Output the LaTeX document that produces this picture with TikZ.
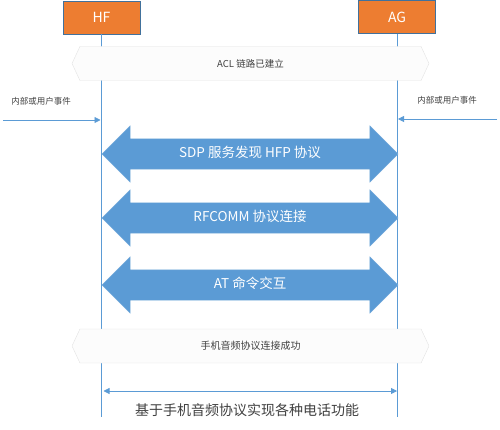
\documentclass[tikz,border=0pt]{standalone}
\usepackage{fontspec}
\setmainfont{Noto Sans CJK SC}
\usetikzlibrary{shapes.symbols,shapes.arrows,arrows.meta}
\definecolor{hforange}{HTML}{ED7D31}
\definecolor{boxedge}{HTML}{41719C}
\definecolor{lifeblue}{HTML}{5B9BD5}
\definecolor{hexedge}{HTML}{E3E3E3}
\definecolor{hexfill}{HTML}{FCFCFC}
\definecolor{txtgray}{HTML}{404040}
\tikzset{
    rolebox/.style={draw=boxedge,fill=hforange,text=white,minimum width=77pt,
        minimum height=33pt,inner sep=0pt,font=\fontsize{14}{14}\selectfont},
    lifeline/.style={draw=lifeblue,line width=0.8pt},
    hexbar/.style={signal,signal to=east and west,signal pointer angle=130,
        draw=hexedge,fill=hexfill,text=txtgray,minimum width=357pt,
        minimum height=34pt,inner sep=0pt},
    bigarrow/.style={double arrow,double arrow tip angle=90,
        double arrow head extend=13pt,fill=lifeblue,draw=lifeblue!85!white,
        text=white,minimum height=296pt,inner xsep=0pt,inner ysep=8.5pt,
        text height=10pt,text depth=3pt,font=\fontsize{13.5}{13.5}\selectfont},
    evarrow/.style={draw=lifeblue,line width=0.8pt,-{Triangle[length=6pt,width=6pt]}},
    evtext/.style={text=txtgray,font=\fontsize{8.5}{8.5}\selectfont,inner sep=0pt}
}
\begin{document}
\begin{tikzpicture}[x=1pt,y=-1pt]
    \useasboundingbox (0,0) rectangle (500,430);
    % roles and their lifelines
    \node[rolebox] (hf) at (101.5,17.5) {HF};
    \node[rolebox] (ag) at (397,17) {AG};
    \coordinate (hfend) at (hf.south |- 0,417);
    \coordinate (agend) at (ag.south |- 0,417);
    \draw[lifeline] (hf.south) -- (hfend);
    \draw[lifeline] (ag.south) -- (agend);
    % link states
    \node[hexbar,font=\fontsize{9.5}{9.5}\selectfont] (acl) at (250.5,63.5) {ACL 链路已建立};
    \node[hexbar,font=\fontsize{10}{10}\selectfont] (done) at (250.5,346) {手机音频协议连接成功};
    % internal or user events
    \node[evtext] (hfev) at (41,101) {内部或用户事件};
    \node[evtext] (agev) at (447,100) {内部或用户事件};
    \coordinate (hfin) at (3,120);
    \coordinate (hfhit) at (hf.south |- hfin);
    \coordinate (agin) at (497,119);
    \coordinate (aghit) at (ag.south |- agin);
    \draw[evarrow] (hfin) -- ([xshift=-1pt]hfhit);
    \draw[evarrow] (agin) -- ([xshift=1pt]aghit);
    % procedures
    \foreach \name/\y/\label in {sdp/154/{SDP 服务发现 HFP 协议},
                                 rfc/218/{RFCOMM 协议连接},
                                 at/285/{AT 命令交互}}{
        \node[bigarrow] (\name) at (250,\y) {\label};
    }
    % telephony functions
    \coordinate (fnl) at (hf.south |- 0,391);
    \coordinate (fnr) at (ag.south |- 0,391);
    \draw[lifeblue,line width=0.8pt,{Triangle[length=6pt,width=6pt]}-{Triangle[length=6pt,width=6pt]}]
        ([xshift=2pt]fnl) -- (fnr);
    \node[text=txtgray,font=\fontsize{14}{14}\selectfont] (fn) at (247,410) {基于手机音频协议实现各种电话功能};
\end{tikzpicture}
\end{document}
